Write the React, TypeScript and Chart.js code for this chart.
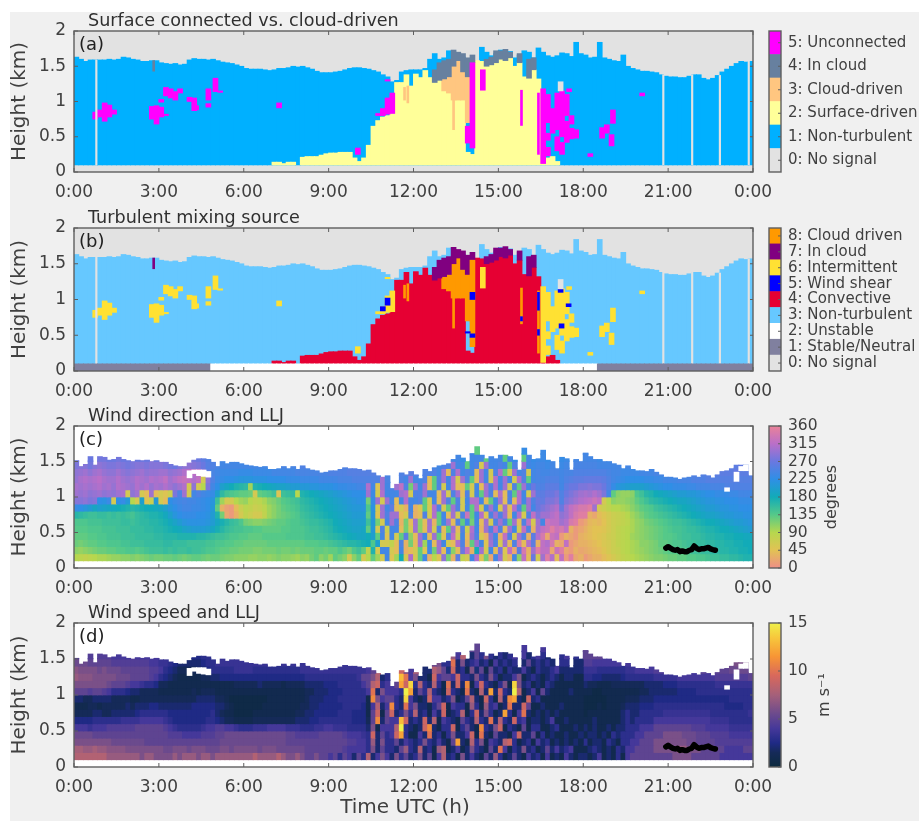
import React, { useEffect, useRef } from "react";
import { Chart, registerables } from "chart.js";

Chart.register(...registerables);

const COLS = 144;
const timeTicks = [0, 3, 6, 9, 12, 15, 18, 21, 24];
const heightTicks = [0, 0.5, 1, 1.5, 2];

const signalTop = [
  1.63,1.6,1.57,1.59,1.59,1.59,1.59,1.6,1.59,1.6,1.63,1.62,1.6,1.59,1.57,1.57,1.58,1.58,
  1.55,1.54,1.53,1.54,1.52,1.53,1.59,1.61,1.6,1.6,1.59,1.6,1.58,1.56,1.55,1.54,1.52,1.5,
  1.47,1.46,1.46,1.46,1.45,1.44,1.45,1.47,1.47,1.48,1.5,1.49,1.5,1.48,1.46,1.43,1.41,1.41,
  1.41,1.42,1.43,1.45,1.47,1.48,1.48,1.47,1.46,1.44,1.42,1.38,1.35,1.28,1.3,1.42,1.44,1.45,
  1.45,1.45,1.47,1.6,1.68,1.6,1.62,1.72,1.7,1.65,1.63,1.6,1.58,1.57,1.77,1.7,1.65,1.68,
  1.73,1.7,1.71,1.62,1.66,1.72,1.7,1.62,1.76,1.7,1.65,1.63,1.65,1.69,1.68,1.64,1.84,1.68,
  1.66,1.62,1.63,1.84,1.62,1.6,1.58,1.57,1.66,1.5,1.47,1.45,1.43,1.43,1.42,1.41,1.38,1.36,
  1.35,1.35,1.34,1.34,1.36,1.38,1.38,1.33,1.31,1.33,1.37,1.42,1.46,1.5,1.54,1.57,1.56,1.57,
];
const turbulentTop = [
  .1,.1,.1,.1,.1,.1,.1,.1,.1,.1,.1,.1,.1,.1,.1,.1,.1,.1,
  .1,.1,.1,.1,.1,.1,.1,.1,.1,.1,.1,.1,.1,.1,.1,.1,.1,.1,
  .1,.1,.1,.1,.1,.1,.14,.14,.12,.14,.14,.1,.21,.22,.22,.22,.24,.26,
  .27,.27,.28,.28,.28,.2,.15,.2,.38,.65,.73,.78,.8,.83,1.27,1.27,1.38,1.22,
  1.39,1.34,1.44,1.34,1.27,1.3,1.15,1.12,1.02,1.02,1.02,.28,.25,1.58,1.57,1.5,1.52,1.55,
  1.6,1.58,1.62,1.5,1.55,1.35,1.33,1.45,1.32,.12,.2,.22,.15,.1,.1,.1,.1,.1,
  .1,.1,.1,.1,.1,.1,.1,.1,.1,.1,.1,.1,.1,.1,.1,.1,.1,.1,
  .1,.1,.1,.1,.1,.1,.1,.1,.1,.1,.1,.1,.1,.1,.1,.1,.1,.1,
];
const cloudCells = [
  [78,1.15,1.32],[79,1.12,1.35],[80,1.02,1.5],[81,1.02,1.58],[82,1.02,1.42],[83,.7,1.35],
];
const thinCloudCells = [[69.6,1.02,1.2],[80,.6,1.02],[70.3,.98,1.22]];
const inCloudCells = [
  [76,1.27,1.45],[77,1.3,1.55],[78,1.32,1.58],[79,1.35,1.6],[80,1.5,1.73],[81,1.58,1.7],[82,1.42,1.68],
  [83,1.35,1.62],[84,1.55,1.66],[87,1.5,1.6],[88,1.52,1.63],[89,1.55,1.72],[90,1.6,1.72],[91,1.58,1.74],
  [92,1.62,1.7],[94,1.55,1.68],[96,1.33,1.6],[97,1.45,1.62],
];
const thinInCloud = [[16.4,1.43,1.58]];
const patchCells = [
  [4,.75,.85],[5,.78,.88],[6,.72,.98],[7,.78,.95],[8,.82,.88],[16,.75,.93],[17,.68,.94],[18,.78,.92],[18,.99,1.03],
  [19,1.08,1.2],[20,1.05,1.18],[21,1.02,1.14],[22,1.12,1.18],[19,.8,.82],[24,1.0,1.06],[25,.87,1.05],[25.4,.88,.94],
  [28,1.02,1.18],[28,.92,.97],[29.5,1.14,1.33],[30.5,1.13,1.15],[43,.91,.98],[59.7,.25,.34],
  [64,.8,.83],[65,.8,.9],[66,.82,1.05],[67,.83,1.12],[66,1.29,1.31],[86.2,1.16,1.45],
  [99,.12,1.18],[100,.23,.35],[100,.45,.55],[100,.7,1.1],[101,.55,.9],[102,.3,.5],[102,.6,1.12],[103,.25,.42],[103,.5,1.15],
  [104,.42,.72],[104,.8,1.1],[105,.47,.62],[105,.68,.8],[106,.48,.6],[104.5,1.14,1.18],
  [120,1.08,1.12],[113.8,.69,.88],[111.5,.48,.63],[112.5,.55,.67],[113.5,.37,.53],[109,.22,.26],
];
const columnCells = [[84,.34,1.55]];
const lowerVeeCells = [[83,.41,.65]];
const thinColumnCells = [[94.4,.66,1.16],[98,.25,1.12]];
const shearCells = [
  [66,.92,1.02],[65,.84,.9],[84,1.0,1.1],[84,.47,.52],[83,.53,.55],[102.7,1.1,1.14],[102.9,.6,.66],[104.4,.9,.94],
];
const thinShearCells = [[94.4,.7,.76],[98,.85,1.1],[98,.5,.58]];
const noSignalCells = [[102.7,1.15,1.28]];
const dropoutHours = [0.79, 20.83, 21.85, 22.83, 23.85];
const stableUntil = 4.83;
const stableFrom = 18.5;

const windTop = [
  1.51,1.43,1.46,1.57,1.45,1.57,1.56,1.52,1.53,1.56,1.53,1.51,1.5,1.52,1.51,1.52,1.5,1.51,
  1.49,1.49,1.46,1.44,1.43,1.43,1.48,1.52,1.54,1.54,1.53,1.49,1.43,1.5,1.47,1.49,1.49,1.47,
  1.45,1.44,1.43,1.42,1.43,1.39,1.39,1.4,1.43,1.4,1.43,1.39,1.44,1.4,1.38,1.37,1.34,1.35,
  1.37,1.37,1.39,1.41,1.4,1.4,1.39,1.37,1.38,1.34,1.3,1.28,1.3,1.12,1.18,1.34,1.31,1.36,
  1.31,1.26,1.39,1.36,1.41,1.44,1.45,1.47,1.53,1.59,1.55,1.5,1.61,1.71,1.59,1.54,1.57,1.54,
  1.59,1.59,1.57,1.52,1.38,1.69,1.59,1.53,1.54,1.66,1.52,1.5,1.4,1.56,1.54,1.38,1.53,1.5,
  1.62,1.57,1.53,1.53,1.5,1.5,1.47,1.45,1.4,1.44,1.39,1.37,1.37,1.36,1.39,1.35,1.31,1.28,
  1.28,1.27,1.25,1.27,1.28,1.3,1.28,1.31,1.3,1.27,1.31,1.36,1.37,1.4,1.45,1.45,1.45,1.3,
];
const windHoleCells = [
  [24,1.27,1.37],[25,1.33,1.38],[26,1.3,1.38],[27,1.29,1.38],[28,1.28,1.36],[140,1.22,1.35],[141,1.37,1.43],[142,1.37,1.45],[138,1.08,1.13],
];
const lljHours = [20.92,21,21.08,21.17,21.25,21.33,21.42,21.5,21.58,21.67,21.75,21.83,21.92,22,22.08,22.17,22.25,22.33,22.42,22.5,22.58,22.67];
const lljHeights = [.28,.3,.28,.26,.25,.26,.23,.24,.23,.23,.25,.26,.31,.28,.26,.27,.27,.28,.29,.27,.26,.25];

// Rows: columns 0-65, then 108-143. Columns 66-107 are held per column below.
const dirRow00 = [90,85,80,85,90,95,95,100,105,105,110,110,115,110,115,120,125,120,
120,125,125,130,125,120,125,130,130,125,120,125,125,120,115,115,110,110,
110,105,105,110,110,105,110,115,110,110,105,100,110,105,120,130,110,120,
100,130,120,110,60,110,130,60,90,130,100,60,
10,20,30,30,40,50,60,70,80,85,90,95,100,105,110,115,115,120,
125,125,130,130,135,135,140,140,145,150,150,155,155,160,160,165,170,170];
const dirRow01 = [110,105,110,115,120,125,125,130,130,135,135,140,140,135,140,145,150,150,
150,155,150,155,150,150,155,150,150,145,140,140,135,130,130,125,125,120,
120,120,115,115,120,120,120,125,120,120,125,120,125,125,125,130,130,125,
130,130,140,130,120,140,150,130,80,170,60,240,
25,30,35,40,50,60,70,75,85,90,95,100,105,110,115,120,125,130,
135,135,140,140,145,150,150,155,155,160,160,165,165,170,170,175,175,180];
const dirRow02 = [125,120,125,130,130,135,135,140,140,140,145,145,150,150,150,155,155,155,
155,160,160,155,155,155,150,150,150,150,145,145,140,140,135,135,130,130,
125,125,125,125,125,130,130,130,130,130,130,130,130,135,135,135,140,140,
145,150,155,160,165,165,170,175,180,140,200,60,
30,35,40,45,55,60,70,80,85,90,95,100,110,110,115,120,130,130,
135,140,140,145,150,150,155,155,160,160,165,165,170,170,175,175,180,180];
const dirRow03 = [130,130,130,135,135,140,140,145,145,145,150,150,150,155,155,155,155,160,
160,165,165,165,170,170,170,170,165,165,160,155,150,150,145,140,140,135,
135,130,130,130,135,135,135,135,135,140,140,140,140,145,145,150,150,155,
160,165,170,175,180,185,190,190,180,200,130,240,
35,40,45,50,55,65,70,80,85,90,100,105,110,115,120,125,130,135,
135,140,145,150,150,155,155,160,165,165,170,170,175,175,180,180,185,185];
const dirRow04 = [135,135,135,140,140,140,145,145,145,150,150,150,155,155,155,160,160,165,
165,170,175,180,185,195,200,205,205,205,200,190,175,165,155,150,145,145,
140,140,135,135,130,130,130,130,135,135,140,140,140,145,150,150,155,160,
165,175,180,185,190,195,195,190,130,210,60,250,
30,40,45,45,50,60,70,80,85,90,95,105,110,115,120,125,130,135,
140,145,145,150,155,155,160,165,170,170,175,180,180,185,190,195,200,205];
const dirRow05 = [140,140,140,145,145,145,150,150,150,150,155,155,150,155,160,160,165,165,
170,175,185,195,205,215,220,220,220,220,215,205,190,175,165,155,150,140,
120,115,110,110,115,120,125,130,130,135,140,140,145,150,155,155,160,165,
170,180,185,190,195,200,200,200,150,210,120,60,
20,35,40,35,45,60,70,75,80,85,95,105,110,120,125,130,135,140,
145,150,150,155,160,165,170,175,180,180,185,190,195,200,205,205,210,215];
const dirRow06 = [165,160,155,150,150,155,155,150,155,150,155,150,145,155,160,165,170,170,
175,185,200,215,225,230,230,230,225,225,220,205,170,120,20,10,30,60,
80,70,60,60,80,100,110,120,125,130,135,140,150,155,160,165,170,175,
180,185,190,195,200,205,205,205,130,215,50,300,
350,30,20,40,50,60,70,75,80,90,100,110,120,130,135,140,145,150,
155,160,165,170,175,180,185,190,195,195,200,205,210,210,215,215,220,220];
const dirRow07 = [230,225,215,205,190,200,195,190,185,180,175,170,165,170,175,180,180,185,
190,200,215,225,235,240,240,235,235,230,225,210,130,30,15,10,40,70,
85,80,70,75,85,100,110,120,130,135,140,145,155,160,165,170,175,180,
185,190,195,200,205,210,210,215,140,220,60,300,
340,350,300,60,70,80,90,90,95,100,110,120,130,135,140,150,155,160,
165,170,175,180,185,190,195,200,205,205,210,215,215,220,220,225,225,225];
const dirRow08 = [285,285,290,280,285,225,220,235,60,225,230,210,90,60,200,50,70,210,
60,40,225,235,240,245,240,240,235,230,225,215,150,100,60,60,90,100,
105,90,80,85,95,110,115,125,135,140,145,150,160,165,170,175,180,185,
190,195,200,205,210,215,220,220,120,230,300,60,
315,320,330,320,60,90,110,105,105,110,115,130,140,150,160,165,170,175,
180,185,190,190,195,200,205,210,215,215,220,220,225,225,225,230,230,230];
const dirRow09 = [300,295,300,290,295,300,290,295,290,300,305,60,290,300,60,40,300,40,
60,50,70,280,250,300,60,240,250,240,235,230,200,160,145,140,135,130,
130,125,60,130,135,140,150,50,150,155,160,90,170,175,180,185,190,195,
200,205,210,215,220,225,225,225,300,235,60,310,
305,300,310,300,280,240,130,110,105,105,110,140,150,165,170,180,185,190,
195,200,205,205,210,210,215,220,225,225,230,230,230,235,235,240,240,240];
const dirRow10 = [305,300,305,300,305,310,300,305,295,310,305,300,295,310,300,310,295,305,
300,310,300,290,300,310,60,290,60,90,280,240,225,200,190,180,170,165,
160,100,170,175,180,185,190,195,195,200,205,205,210,210,215,215,220,220,
220,225,230,230,235,235,240,240,310,240,50,300,
280,285,280,280,270,250,230,215,210,205,200,200,200,205,210,215,220,225,
225,230,230,230,235,235,240,240,240,245,245,245,250,250,250,250,250,250];
const dirRow11 = [295,305,310,305,310,315,305,300,300,310,300,295,300,310,305,300,310,305,
310,320,300,310,320,325,320,310,320,60,290,250,235,230,225,225,220,215,
215,215,220,220,220,225,225,225,225,230,230,230,235,235,235,235,240,240,
240,240,245,245,245,250,250,250,250,250,250,300,
265,265,265,265,260,250,240,235,230,225,225,225,225,230,230,235,235,240,
240,240,245,245,245,250,250,250,255,255,255,255,255,255,255,255,255,255];
const dirRow12 = [290,295,300,290,300,305,295,290,290,300,290,285,290,295,300,290,295,295,
300,300,290,295,300,310,315,315,320,290,260,245,240,235,235,235,235,230,
230,230,235,235,235,235,240,240,240,240,240,245,245,245,245,245,245,245,
250,250,250,250,255,255,255,255,255,255,255,250,
250,250,250,250,250,245,240,240,235,235,235,235,240,240,240,245,245,245,
250,250,250,250,255,255,255,255,255,260,260,260,260,260,265,260,260,265];
const dirRow13 = [280,285,285,275,285,290,285,280,280,285,280,275,280,285,285,280,285,285,
285,280,275,270,280,290,290,285,280,270,255,250,245,240,240,240,240,240,
240,240,240,240,240,240,245,245,245,245,245,250,250,250,250,250,250,250,
250,250,250,250,255,255,255,255,255,255,255,255,
245,245,245,240,240,240,240,240,240,240,240,240,245,245,245,245,250,250,
250,250,250,255,255,255,255,255,260,260,260,260,260,260,260,265,255,250];
const dirRow14 = [270,270,270,270,270,275,275,270,270,275,270,270,270,270,270,270,270,270,
270,265,265,265,265,280,280,275,270,260,250,250,245,245,245,245,245,245,
245,245,245,245,245,245,245,245,245,245,245,245,245,245,245,245,245,245,
250,250,250,250,250,250,250,250,250,250,250,250,
240,240,240,235,235,235,235,235,240,240,240,240,240,240,240,240,240,240,
250,250,250,250,250,250,250,250,250,250,250,250,250,250,250,250,250,250];
const dirRow15 = [240,240,235,235,235];

const dirCol066 = [240,240,60,50,70,240,250,240,300,240,240,245,250,250,250,240];
const dirCol067 = [50,60,80,240,240,300,300,260,240,240,250,250,250,250,250,240];
const dirCol068 = [100,40,40,60,240,250,300,40,40,240,300,260,250,250,250,240];
const dirCol069 = [180,240,250,130,40,30,40,60,240,300,320,250,250,245,250,240];
const dirCol070 = [60,30,30,260,120,120,60,30,310,310,250,240,260,250,250,240];
const dirCol071 = [310,40,120,110,60,40,250,240,240,60,120,300,260,250,250,240];
const dirCol072 = [60,60,40,40,300,300,30,30,240,250,300,240,260,250,250,240];
const dirCol073 = [130,130,300,300,110,110,40,50,250,250,240,240,250,250,245,240];
const dirCol074 = [240,50,100,240,40,40,250,130,130,300,300,250,250,250,245,240];
const dirCol075 = [30,240,240,40,300,300,60,60,60,240,40,40,250,250,240,240];
const dirCol076 = [90,120,40,300,60,30,310,310,240,240,130,130,250,240,240,240];
const dirCol077 = [50,300,300,130,250,130,130,250,40,40,250,250,240,240,240,240];
const dirCol078 = [290,40,240,50,40,240,240,60,300,300,60,300,300,250,240,240];
const dirCol079 = [120,240,60,250,130,300,40,130,250,60,240,240,40,250,240,240];
const dirCol080 = [30,110,40,320,300,40,300,300,130,250,310,310,250,300,240,240];
const dirCol081 = [260,40,310,60,40,250,60,250,250,300,40,60,310,240,240,230];
const dirCol082 = [80,270,250,240,250,130,250,60,60,40,40,300,240,240,230,240];
const dirCol083 = [60,320,30,40,70,240,330,240,240,250,130,250,250,130,240,240];
const dirCol084 = [240,30,130,300,310,120,130,130,310,60,60,130,240,240,240,240];
const dirCol085 = [310,180,300,250,240,240,240,310,310,240,240,40,40,250,240,130];
const dirCol086 = [50,300,240,60,30,40,310,60,240,130,40,300,300,60,240,240];
const dirCol087 = [120,60,50,30,300,300,50,240,40,300,300,240,240,300,130,240];
const dirCol088 = [20,240,300,290,250,60,250,300,130,250,250,60,60,240,240,70];
const dirCol089 = [240,40,250,240,320,250,300,240,240,40,310,310,250,240,240,240];
const dirCol090 = [300,280,60,30,250,300,250,60,300,310,240,240,310,250,240,130];
const dirCol091 = [60,50,300,320,40,250,300,300,40,40,300,300,130,240,130,240];
const dirCol092 = [30,320,40,250,300,130,40,40,250,250,60,240,60,130,240,240];
const dirCol093 = [240,20,250,60,240,300,240,310,40,130,250,60,300,250,230,240];
const dirCol094 = [110,260,340,300,60,40,310,250,310,310,130,310,240,240,240,235];
const dirCol095 = [320,340,40,250,320,250,60,130,240,240,300,250,250,300,130,230];
const dirCol096 = [40,30,310,30,250,320,250,300,300,60,240,130,60,240,240,235];
const dirCol097 = [270,300,260,260,30,60,320,240,250,300,270,240,240,235,230,240];
const dirCol098 = [60,350,30,310,300,300,280,270,270,260,250,245,245,240,235,230];
const dirCol099 = [300,320,320,340,320,240,300,280,265,260,250,245,240,240,235,235];
const dirCol100 = [350,320,310,20,330,330,300,290,280,270,260,250,240,235,230,230];
const dirCol101 = [310,20,340,330,350,320,310,300,280,270,260,250,245,240,235,230];
const dirCol102 = [40,330,30,320,330,320,320,310,290,280,260,250,245,240,235,235];
const dirCol103 = [320,350,20,10,340,300,290,270,250,250,240,240,240,235,230,230];
const dirCol104 = [10,20,320,30,320,310,300,300,280,270,260,250,245,240,235,230];
const dirCol105 = [350,10,10,20,30,340,320,320,290,280,270,255,245,240,235,230];
const dirCol106 = [20,30,20,10,10,350,340,330,300,290,270,260,250,245,240,235];
const dirCol107 = [30,20,30,30,20,10,350,340,310,300,280,260,250,245,240,235];

const spdRow00 = [8,8,8,8,8,8,8,7,7,7,7,7,7,7,6,7,7,6,
6,6,6,7,6,7,7,7,6,7,7,6,7,7,7,7,7,7,
7,7,8,7,7,7,7,8,7,6,6,7,6,5,5,6,5,5,
4,5,3,5,4,2,5,3,8,2,4,6,
2,1,2,4,1,2,1,3,1,4,5,5,5,5,5,5,5,5,
5,6,6,6,6,5,5,5,5,5,5,4,4,4,4,4,4,4];
const spdRow01 = [7.5,7.5,7,7,7.5,7,7,6.5,6.5,6.5,6.5,6,6,6,6,6,6,6,
6,5.5,5.5,6,6,6,5.5,6,6,6,5.5,5.5,5.5,6,6,5.5,6,6,
6,6,6,5.5,6,6,6,5.5,5.5,5.5,5.5,5.5,5.5,5,5,5,5,5,
5,5,5,4.5,4,4,4,4,3,6,2,5,
1,2,3,2,1,2,1,3,2,4,4,5,5,5,5,6,6,6,
6,6,7,7,6,6,6,5,5,5,5,5,4,4,4,4,5,5];
const spdRow02 = [6,6,6,6,6,6,6,6,5.5,5.5,5.5,5.5,5.5,5.5,5.5,5,5,5,
5,5,5,5,5,5,5,5,5,5,5,5,5,5.5,5.5,5.5,5.5,5.5,
5.5,5.5,5.5,5.5,5.5,5.5,5.5,5.5,5.5,5,5,5,5,5,5,5,5,5,
5,5,5,5,4.5,4.5,4,4,3,7,2,6,
3,1,2,2,1,3,2,1,3,3,4,4,5,5,5,6,6,6,
6,6,6,6,5.5,5.5,5,5,5,5,4.5,4.5,4.5,4.5,4.5,4.5,4.5,4.5];
const spdRow03 = [5.5,5.5,5.5,5.5,5,5,5,5,5,5,5,5,5,5,5,5,5,5,
5,5,4.5,4.5,4.5,4,4,4,4,4.5,4.5,4.5,5,5,5.5,5.5,5.5,5.5,
5.5,5.5,5.5,5.5,5.5,5.5,5.5,5.5,5.5,5,5,4.5,4.5,4.5,4.5,4.5,5,5,
5,5,5,4.5,4,4,4,3.5,3,9,2,5,
1,2,2,1,2,1,3,2,3,3,3,4,4,5,5,5,5,6,
6,6,6,5.5,5.5,5.5,5,5,5,4.5,4.5,4.5,4.5,4,4,4,4,4];
const spdRow04 = [4,4,4,3.5,4,4,4,4.5,4.5,4.5,4.5,4.5,4.5,5,5,5,5,5,
5,4.5,4,3.5,3,3,3,3,3,3.5,4,4,4.5,4.5,4,4,3.5,3,
3,3,3.5,3.5,3.5,4,4,4,4,3.5,3.5,3.5,3,3,3,3.5,3.5,4,
4,3.5,3.5,3.5,3,3,3,3,2,6,1,4,
2,1,2,1,1,2,1,2,2,3,3,3,4,4,4,5,5,5,
5,5,5,5,5,4.5,4.5,4.5,4,4,4,4,4,3.5,3.5,3.5,3.5,3.5];
const spdRow05 = [2.5,2.5,2.5,2.5,3,3,3,3,3,3,3.5,3.5,3.5,3.5,4,4,4,4,
4,3.5,3,2.5,2.5,2.5,2.5,2.5,2.5,2.5,3,3,2.5,2,1.5,1.5,1,1,
1,1,1.5,1.5,1.5,1.5,1.5,1.5,1.5,1.5,1.5,2,2,2,2.5,2.5,3,3,
3,3,3,3,3,2.5,2.5,2.5,1.5,5,11,2,
1,1,2,1,1,1,1,1,2,3,2,3,3,3,3,4,4,4,
4,4,4,4,4,4,4,4,4,3.5,3.5,3.5,3.5,3,3,3,3,3];
const spdRow06 = [1.5,1.5,1.5,1.5,2,2,1.5,1.5,2,2,2,2,2,2.5,3,3,3,3,
3,3,2.5,2.5,2.5,2.5,2.5,2.5,2.5,2.5,2.5,3,2,1.5,1,1,0.5,0.5,
0.5,0.5,1,1,1,1,1,1,1,1,1,1.5,1.5,2,2,2.5,2.5,2.5,
2.5,2.5,3,3,3,2.5,2.5,2.5,1,5,9,1,
0.5,1,1,1,1,1,1,1,2,3,2,2,3,3,3,3,3,3.5,
3.5,3.5,3.5,3.5,3.5,3.5,3.5,3.5,3.5,3,3,3,3,3,3,3,3,3.5];
const spdRow07 = [1,1,1,1.5,1.5,1,1.5,1.5,1.5,1.5,1.5,2,1.5,2,2,2,2.5,2.5,
2,2,2,2,2,2,2,2.5,2.5,2.5,2.5,2.5,2,2,1.5,1,0.5,0.5,
0.5,0.5,0.5,0.5,1,1,1,1,1,1,1,1,1.5,1.5,2,2,2.5,2.5,
2.5,2.5,2.5,3,3,3,3,2.5,1,4,8,2,
0.5,0.5,0.5,1,0.5,1,1,1,1.5,2,2,2,2.5,2.5,2.5,3,3,3,
3,3,3,3,3,3,3,3,3,3,3,3,2.5,2.5,2.5,2.5,3,3];
const spdRow08 = [2,2,1.5,1.5,2,2,2,2,1.5,1.5,1.5,1.5,1,1,1.5,1.5,1.5,1.5,
1.5,1.5,1.5,1.5,1.5,1.5,1.5,1.5,2,2,2,2,1.5,1.5,1,0.5,0.5,0.5,
0.5,0.5,0.5,0.5,0.5,1,1,1,1,1,1,1,1,1.5,2,2,2,2.5,
2.5,2.5,3,3,3,3,3,3,1,11,6,4,
0.5,0.5,0.5,0.5,0.5,1,1,1,1,1.5,1.5,1.5,2,2,2,2.5,2.5,2.5,
2.5,2.5,2.5,2.5,2.5,2.5,2.5,2.5,2.5,2.5,2.5,2.5,2.5,3,3,3,3,3];
const spdRow09 = [5,5,5,4.5,5,5,4.5,4,3,3,3,2.5,2,2,1.5,1.5,1.5,1.5,
1,1,1,1,1,1,1,1.5,1,1.5,1.5,1.5,1,1,1,1,1,1,
1,1,1,1,1,1,1,1,1,1,1,1,1,1.5,1.5,2,2,2,
2.5,2.5,2.5,3,3,3,3,3,4,10,2,6,
1,1,0.5,0.5,1,1,1,1,1,1,1,1,1.5,1.5,2,2,2,2,
2,2,2.5,2.5,2.5,2.5,3,3,3,3,3,3,3,3,3,3,3,3];
const spdRow10 = [6,6,6,6,6,6,6,5.5,5,5,5,4.5,4,4,3.5,3,3,2.5,
1.5,1.5,1,1,1,1,1,1,1,1,1,1,1,1,1,1,1.5,1.5,
1.5,1.5,1.5,2,1.5,1.5,1.5,1.5,1,1.5,1.5,1.5,1.5,2,2,2,2,2.5,
2.5,2.5,3,3,3,3,3,4,5,8,9,3,
2,1.5,1.5,1,1,1,1.5,1.5,1.5,1.5,1.5,1.5,1.5,2,2,2,2,2.5,
2.5,2.5,3,3,3,3,3,3,3,3,3.5,3.5,3.5,3.5,3.5,3.5,3.5,3.5];
const spdRow11 = [7,6.5,6.5,6.5,6,6,6,6,6,5.5,5.5,5.5,5,5,5,5,4.5,4,
3,2.5,2,1.5,1,1,1,1,1,1.5,1.5,2,2,2.5,2.5,2.5,2.5,2.5,
2.5,2.5,2.5,2.5,2.5,2.5,2.5,2.5,2.5,2.5,2.5,2.5,2.5,3,3,3,3,3,
3,3,3,3,3,3,3.5,5,5,6,8,2,
3,3,2.5,2.5,2,2,2,2,2.5,3,3,3,3,3,3,3.5,3.5,3.5,
3.5,3.5,4,4,4,4,4,4,4,4,4.5,4.5,4.5,4.5,4.5,4.5,4.5,5];
const spdRow12 = [6.5,6,6,6,6,5.5,6,5.5,5.5,5.5,5,5,5,5,5,5,4.5,4.5,
4,3,2.5,2,1.5,1.5,1.5,1.5,2,2,2.5,3,3,3,3,3,3.5,3.5,
3.5,3.5,3,3,3,3,3,3,3,3,3,3,3.5,3.5,3.5,3.5,3.5,3.5,
3.5,3.5,3.5,3.5,3.5,3.5,3.5,3.5,4,5,6,7,
3.5,3.5,3.5,3,3,3,3,3,3,3.5,3.5,4,4,4,4,4.5,4.5,4.5,
4.5,5,5,5,5,5,5,5,5,5,5,5,5,5.5,5.5,5.5,5.5,5.5];
const spdRow13 = [5.5,5.5,5.5,5,5,5,5,5,4.5,4.5,4.5,4.5,4.5,4.5,4.5,4.5,4,4,
3.5,3.5,3,2.5,2,2,2,2,2,2.5,3,3,3.5,3.5,3.5,3.5,3.5,3.5,
3.5,3.5,3.5,3.5,3.5,3.5,3.5,3.5,3.5,3.5,3.5,3.5,3.5,3.5,3.5,3.5,3.5,3.5,
3.5,3.5,3.5,3.5,3.5,3.5,3.5,3.5,4,5,6,7,
4.5,4.5,4,4,4,4,4,4,4,4,4.5,4.5,4.5,5,5,5,5,5,
5,5.5,5.5,5.5,5.5,5.5,6,6,6,6,6,6,6,6,6,6,6,6];
const spdRow14 = [4.5,4.5,4.5,4.5,4.5,4.5,4.5,4.5,4,4,4,4,4,4,4,4,4,4,
3.5,3.5,3.5,3,3,3,2.5,2.5,2.5,3,3,3.5,3.5,3.5,3.5,3.5,3.5,3.5,
3.5,3.5,3.5,3.5,3.5,3.5,3.5,3.5,3.5,3.5,3.5,3.5,3.5,3.5,3.5,3.5,3.5,3.5,
3.5,3.5,3.5,3.5,3.5,3.5,3.5,3.5,3.5,3.5,3.5,3.5,
5,5,5,5,5,5,5,5,5,5,5,5,5.5,5.5,5.5,5.5,5.5,5.5,
6,6,6,6,6,6,6,6,6,6,6,6,6,6,6,6,6,6];
const spdRow15 = [5,5,5,5,5];

const spdCol066 = [4,3,3,3,4,5,5,4,5,4,4,3,4,4,3.5,3];
const spdCol067 = [2,3,3,4,4,4,9,11,5,4,4,5,5,5,4,3];
const spdCol068 = [6,2,5,9,8,4,2,3,3,4,5,9,6,6,4,3];
const spdCol069 = [3,5,2,12,15,13,3,2,2,3,12,13,9,7,4,3];
const spdCol070 = [5,7,4,3,3,9,6,10,14,15,9,10,5,6,3,3];
const spdCol071 = [2,3,3,1,2,2,3,4,4,12,14,4,4,3,3,3];
const spdCol072 = [3,2,2,1,1,3,8,6,2,2,3,6,8,7,4,4];
const spdCol073 = [6,8,3,4,2,2,2,2,1,5,8,2,3,5,3,3];
const spdCol074 = [2,2,6,2,9,9,3,2,2,3,3,2,2,3,5,5];
const spdCol075 = [5,3,3,10,11,2,1,1,9,8,2,1,2,4,5,5];
const spdCol076 = [1,1,2,2,2,8,4,3,4,3,8,9,8,5,5,4];
const spdCol077 = [4,7,4,3,1,1,2,5,4,2,3,4,7,6,4,3];
const spdCol078 = [8,8,2,1,3,4,9,9,2,1,1,5,5,3,5,4];
const spdCol079 = [2,1,1,3,3,3,1,1,3,9,10,5,2,3,6,6];
const spdCol080 = [3,2,5,6,9,2,2,4,6,3,2,4,9,10,7,5];
const spdCol081 = [1,4,12,2,1,1,3,3,1,2,9,9,2,2,4,4];
const spdCol082 = [6,1,2,2,3,5,8,3,2,1,2,3,3,6,8,6];
const spdCol083 = [2,2,1,4,5,3,1,1,5,10,11,3,1,2,3,6];
const spdCol084 = [4,6,8,9,2,2,3,7,8,2,1,2,6,3,2,5];
const spdCol085 = [2,3,3,1,1,8,9,3,2,1,4,6,2,4,5,5];
const spdCol086 = [1,2,6,10,11,3,2,1,1,8,9,3,5,2,3,5];
const spdCol087 = [5,1,1,2,3,2,6,7,9,2,3,2,1,3,6,7];
const spdCol088 = [2,5,4,1,2,10,3,3,3,12,2,6,5,1,3,4];
const spdCol089 = [7,2,3,5,6,2,1,4,1,2,1,3,2,4,2,5];
const spdCol090 = [3,10,2,2,9,8,2,1,8,9,3,1,3,2,3,6];
const spdCol091 = [1,4,8,2,1,3,12,2,2,3,6,2,1,3,2,5];
const spdCol092 = [2,1,9,1,3,2,3,10,11,2,1,2,3,2,3,4];
const spdCol093 = [5,3,3,4,2,9,1,2,12,15,14,4,2,3,4,3];
const spdCol094 = [2,2,1,9,1,3,4,2,2,8,6,6,2,3,2,6];
const spdCol095 = [1,6,2,2,5,4,10,9,1,1,2,1,4,2,4,4];
const spdCol096 = [4,2,3,2,1,1,2,5,9,2,3,2,2,5,2,4];
const spdCol097 = [2,3,1,5,3,2,1,1,2,4,1,3,1,2,3,3];
const spdCol098 = [3,1,4,1,3,2,2,1,3,1,2,2,3,3,4,4];
const spdCol099 = [1,2,2,3,1,1,1,2,1,5,1,1,2,2,3,4];
const spdCol100 = [4,5,3,1,1,2,2,1,1,2,3,2,2,3,2,3];
const spdCol101 = [1,2,1,2,2,4,1,1,1,1,2,3,3,2,3,3];
const spdCol102 = [2,4,2,1,3,1,2,1,1,1,1,2,4,4,3,4];
const spdCol103 = [1,2,1,1,1,1,1,2,1,1,1,1,2,3,3,4];
const spdCol104 = [4,3,2,2,1,2,1,1,1,1,1,2,2,3,4,4];
const spdCol105 = [2,4,1,1,1,1,1,1,1,2,1,2,2,3,3,3];
const spdCol106 = [1,1,2,1,2,1,1,1,1,1,1,1,2,2,3,3];
const spdCol107 = [2,1,1,2,1,1,1,1,1,1,1,1,2,2,3,3];

const dirRows = [dirRow00,dirRow01,dirRow02,dirRow03,dirRow04,dirRow05,dirRow06,dirRow07,dirRow08,dirRow09,dirRow10,dirRow11,dirRow12,dirRow13,dirRow14,dirRow15];
const spdRows = [spdRow00,spdRow01,spdRow02,spdRow03,spdRow04,spdRow05,spdRow06,spdRow07,spdRow08,spdRow09,spdRow10,spdRow11,spdRow12,spdRow13,spdRow14,spdRow15];
const dirCols = [dirCol066,dirCol067,dirCol068,dirCol069,dirCol070,dirCol071,dirCol072,dirCol073,dirCol074,dirCol075,dirCol076,dirCol077,dirCol078,dirCol079,dirCol080,dirCol081,dirCol082,dirCol083,dirCol084,dirCol085,dirCol086,dirCol087,dirCol088,dirCol089,dirCol090,dirCol091,dirCol092,dirCol093,dirCol094,dirCol095,dirCol096,dirCol097,dirCol098,dirCol099,dirCol100,dirCol101,dirCol102,dirCol103,dirCol104,dirCol105,dirCol106,dirCol107];
const spdCols = [spdCol066,spdCol067,spdCol068,spdCol069,spdCol070,spdCol071,spdCol072,spdCol073,spdCol074,spdCol075,spdCol076,spdCol077,spdCol078,spdCol079,spdCol080,spdCol081,spdCol082,spdCol083,spdCol084,spdCol085,spdCol086,spdCol087,spdCol088,spdCol089,spdCol090,spdCol091,spdCol092,spdCol093,spdCol094,spdCol095,spdCol096,spdCol097,spdCol098,spdCol099,spdCol100,spdCol101,spdCol102,spdCol103,spdCol104,spdCol105,spdCol106,spdCol107];
const colsStart = 66;
const lastRowFirstCol = 108;

const classesA = ["0: No signal","1: Non-turbulent","2: Surface-driven","3: Cloud-driven","4: In cloud","5: Unconnected"];
const coloursA = ["#e2e2e2","#00b0ff","#ffff99","#ffc680","#67809f","#ff00ff"];
const classesB = ["0: No signal","1: Stable/Neutral","2: Unstable","3: Non-turbulent","4: Convective","5: Wind shear","6: Intermittent","7: In cloud","8: Cloud driven"];
const coloursB = ["#e2e2e2","#80809f","#ffffff","#66c8ff","#e60033","#0000ff","#ffe133","#800080","#ff9900"];
const dirTickValues = [0,45,90,135,180,225,270,315,360];
const spdTickValues = [0,5,10,15];
const dirStops: [number,string][] = [[0,"#ee8f87"],[45,"#e2c254"],[90,"#b6d74e"],[135,"#55c989"],[180,"#12abb8"],[225,"#2f8fe6"],[270,"#6a78e0"],[315,"#ba6fc8"],[360,"#ea8298"]];
const spdStops: [number,string][] = [[0,"#0c2a3e"],[1.5,"#152a58"],[2.5,"#1f2a85"],[4,"#45389a"],[5.5,"#6b4a8d"],[7.5,"#a5607a"],[9.5,"#d8685c"],[11.5,"#f79535"],[13.5,"#f7c83c"],[15,"#eef04a"]];

const FONT = '"DejaVu Sans", sans-serif';
const INK = "#404040";
const FRAME = "#5e5e5e";
const LEFT = 74, RIGHT = 753, CB_LEFT = 769, CB_RIGHT = 781;
const ABOVE = 30;
const CANVAS_W = 778;

function hexRgb(h: string) { return [1,3,5].map((i) => parseInt(h.slice(i,i+2),16)); }
function ramp(stops: [number,string][], v: number) {
  for (let i = 1; i < stops.length; i++) {
    if (v <= stops[i][0]) {
      const [a, ca] = stops[i-1], [b, cb] = stops[i];
      const t = Math.max(0,(v-a)/(b-a));
      const x = hexRgb(ca), y = hexRgb(cb);
      return `rgb(${x.map((c,k)=>Math.round(c+(y[k]-c)*t)).join(",")})`;
    }
  }
  return stops[stops.length-1][1];
}
const centre = (col: number) => (col+0.5)/6;
function bars(points: any[], colour: any, thick = 5) {
  return { type:"bar", data:points, backgroundColor:colour, borderWidth:0, barThickness:thick, stack:"s" };
}
function topBars(tops: number[], colour: string) {
  return bars(tops.map((t,i)=>({t,i})).filter((p)=>p.t>0.1).map((p)=>({x:centre(p.i),y:[0.1,p.t]})), colour);
}
function cellBars(cells: number[][], colour: string, thick = 5) {
  return bars(cells.map(([c,lo,hi])=>({x:centre(c),y:[lo,hi]})), colour, thick);
}
function dropouts(colour: string) {
  return bars(dropoutHours.map((h)=>({x:h,y:[0.1,signalTop[Math.floor(h*6)]]})), colour, 1.5);
}
function gridBars(rows: number[][], cols: number[][], tops: number[], stops: [number,string][]) {
  return rows.map((row,r)=>{
    const lo = 0.1+0.1*r;
    const pts: any[] = [], colours: string[] = [];
    const put = (c: number, v: number) => {
      if (lo>=tops[c]) return;
      pts.push({x:centre(c),y:[lo,Math.min(tops[c],lo+0.11)]});
      colours.push(ramp(stops,v));
    };
    const isLast = r===rows.length-1;
    row.forEach((v,j)=>{
      if (isLast) put(lastRowFirstCol+j,v);
      else put(j<colsStart ? j : j+cols.length,v);
    });
    cols.forEach((col,k)=>put(colsStart+k,col[r]));
    return bars(pts,colours);
  });
}
function llj() {
  return { type:"line", data:lljHours.map((h,i)=>({x:h,y:lljHeights[i]})), borderColor:"#000", borderWidth:5.5, pointRadius:0, borderCapStyle:"round", borderJoinStyle:"round", fill:false, tension:0 };
}

const decor = {
  id:"decor",
  afterDatasetsDraw(chart: any, _a: any, o: any) {
    const { ctx, chartArea:{left,right,top,bottom} } = chart;
    ctx.save();
    ctx.strokeStyle = FRAME; ctx.lineWidth = 1.4;
    ctx.strokeRect(left,top,right-left,bottom-top);
    ctx.lineWidth = 1;
    if (o.ticks!==false) {
      chart.scales.x.ticks.forEach((t: any)=>{
        const x = chart.scales.x.getPixelForValue(t.value);
        ctx.beginPath(); ctx.moveTo(x,top); ctx.lineTo(x,top+4); ctx.moveTo(x,bottom); ctx.lineTo(x,bottom-4); ctx.stroke();
      });
    }
    chart.scales.y.ticks.forEach((t: any)=>{
      const y = chart.scales.y.getPixelForValue(t.value);
      ctx.beginPath();
      if (o.ticks!==false) { ctx.moveTo(left,y); ctx.lineTo(left+4,y); }
      ctx.moveTo(right,y); ctx.lineTo(right-3,y); ctx.stroke();
    });
    ctx.textAlign="left"; ctx.textBaseline="middle";
    if (o.title) {
      ctx.font = `17.6px ${FONT}`; ctx.fillStyle="#303030";
      ctx.fillText(o.title,left+14,top-10);
    }
    if (o.letter) {
      ctx.font = `18px ${FONT}`; ctx.fillStyle="#202020";
      ctx.fillText(o.letter,left+5,top+14);
    }
    if (o.xTitle) {
      ctx.font = `20px ${FONT}`; ctx.fillStyle=INK; ctx.textAlign="center";
      ctx.fillText(o.xTitle,405,bottom+41);
    }
    if (o.side) {
      ctx.translate(o.side.x,(top+bottom)/2); ctx.rotate(-Math.PI/2);
      ctx.font = `16px ${FONT}`; ctx.textAlign="center"; ctx.fillStyle=INK;
      ctx.fillText(o.side.text,0,0);
    }
    ctx.restore();
  },
  beforeDatasetsDraw(chart: any, _a: any, o: any) {
    const { ctx, chartArea:{left,right,top,bottom} } = chart;
    if (o.bg) { ctx.save(); ctx.fillStyle=o.bg; ctx.fillRect(left,top,right-left,bottom-top); ctx.restore(); }
  },
};
const noPad = (s: any) => { s.paddingLeft = s.paddingRight = s.paddingTop = s.paddingBottom = 0; };

function panelConfig(datasets: any[], title: string, letter: string, bg: string, last: boolean) {
  datasets.forEach((d,i)=>{ d.order = -i; });
  return {
    type:"bar",
    data:{ datasets },
    plugins:[decor],
    options:{
      animation:false, responsive:false, devicePixelRatio:1, events:[],
      layout:{ padding:{ top:ABOVE, left:0, right:CANVAS_W-RIGHT, bottom:0 } },
      plugins:{ legend:{display:false}, tooltip:{enabled:false}, title:{display:false}, decor:{ title, letter, bg, xTitle: last ? "Time UTC (h)" : "" } },
      scales:{
        x:{ type:"linear", offset:false, min:0, max:24, grid:{display:false,drawTicks:false}, border:{display:false},
          afterBuildTicks:(s: any)=>{ s.ticks = timeTicks.map((value)=>({value})); },
          ticks:{ color:INK, font:{size:17,family:FONT}, padding:10, maxRotation:0, autoSkip:false, callback:(v: number)=>`${v%24}:00` },
          afterFit:(s: any)=>{ s.height = last ? 54 : 40; noPad(s); },
        },
        y:{ type:"linear", stacked:false, min:0, max:2, grid:{display:false,drawTicks:false}, border:{display:false},
          afterBuildTicks:(s: any)=>{ s.ticks = heightTicks.map((value)=>({value})); },
          ticks:{ color:INK, font:{size:17,family:FONT}, padding:8, autoSkip:false, callback:(v: number)=>String(v) },
          afterFit:(s: any)=>{ s.width = LEFT; noPad(s); },
          title:{ display:true, text:"Height (km)", color:INK, font:{size:20,family:FONT}, padding:{top:8,bottom:0} },
        },
      },
    },
  };
}

function colourbarConfig(datasets: any[], min: number, max: number, tickValues: number[], labels: string[]|null, side: any) {
  const W = 919-CB_LEFT+7;
  return {
    type:"bar",
    data:{ labels:[""], datasets },
    plugins:[decor],
    options:{
      animation:false, responsive:false, devicePixelRatio:1, events:[],
      layout:{ padding:{ top:10, bottom:10, left:7, right:0 } },
      plugins:{ legend:{display:false}, tooltip:{enabled:false}, decor:{ ticks:false, side } },
      scales:{
        x:{ display:false },
        y:{ position:"right", min, max, grid:{display:false,drawTicks:false}, border:{display:false}, stacked:false,
          afterBuildTicks:(s: any)=>{ s.ticks = tickValues.map((value)=>({value})); },
          afterFit:(s: any)=>{ s.width = W-7-(CB_RIGHT-CB_LEFT); noPad(s); },
          ticks:{ color:INK, font:{size:labels?15:15.5,family:FONT}, padding:7, autoSkip:false,
            callback:(v: number, i: number)=> labels ? labels[i] : String(v) },
        },
      },
    },
  };
}
function classBar(classes: string[], colours: string[]) {
  return colourbarConfig(
    classes.map((_,i)=>({ data:[[i,i+1]], backgroundColor:colours[i], borderWidth:0, grouped:false, barPercentage:1, categoryPercentage:1 })),
    0, classes.length, classes.map((_,i)=>i+0.5), classes, null);
}
function rampBar(stops: [number,string][], ticks: number[], side: any) {
  const max = stops[stops.length-1][0];
  return colourbarConfig([{
    data:[[0,max]], borderWidth:0, grouped:false, barPercentage:1, categoryPercentage:1,
    backgroundColor:(c: any)=>{
      const a = c.chart.chartArea;
      if (!a) return stops[0][1];
      const g = c.chart.ctx.createLinearGradient(0,a.bottom,0,a.top);
      stops.forEach(([v,col])=>g.addColorStop(v/max,col));
      return g;
    },
  }],0,max,ticks,null,side);
}

const PANELS = [{top:31,bottom:172},{top:228,bottom:371},{top:426,bottom:568},{top:623,bottom:767}];

function panelA() {
  const [,blue,yellow,orange,slate,magenta] = coloursA;
  return panelConfig([
    topBars(signalTop,blue),
    topBars(turbulentTop,yellow),
    cellBars(cloudCells,orange),
    cellBars(thinCloudCells,orange,2),
    cellBars(inCloudCells,slate),
    cellBars(thinInCloud,slate,2),
    cellBars(patchCells,magenta),
    cellBars(columnCells,magenta),
    cellBars(lowerVeeCells,magenta),
    cellBars(thinColumnCells,magenta,2),
    cellBars(noSignalCells,coloursA[0]),
    dropouts(coloursA[0]),
  ],"Surface connected vs. cloud-driven","(a)",coloursA[0],false);
}
function panelB() {
  const c = coloursB;
  const strip = Array.from({length:COLS},(_,i)=>i);
  return panelConfig([
    topBars(signalTop,c[3]),
    topBars(turbulentTop,c[4]),
    cellBars(cloudCells,c[8]),
    cellBars(thinCloudCells,c[8],2),
    cellBars(inCloudCells,c[7]),
    cellBars(thinInCloud,c[7],2),
    cellBars(columnCells,c[8]),
    cellBars(patchCells,c[6]),
    cellBars(thinColumnCells,c[8],2),
    cellBars(shearCells,c[5]),
    cellBars(thinShearCells,c[5],2),
    cellBars(noSignalCells,c[0]),
    dropouts(c[0]),
    bars(strip.map((i)=>({x:centre(i),y:[0,0.1]})), strip.map((i)=>(centre(i)<stableUntil||centre(i)>stableFrom)?c[1]:c[2])),
  ],"Turbulent mixing source","(b)",c[0],false);
}
function panelGrid(rows: number[][], cols: number[][], stops: [number,string][], title: string, letter: string, last: boolean) {
  return panelConfig([
    ...gridBars(rows,cols,windTop,stops),
    cellBars(windHoleCells,"#ffffff"),
    llj(),
  ],title,letter,"#ffffff",last);
}

function useChart(makeConfig: () => any) {
  const ref = useRef<HTMLCanvasElement>(null);
  useEffect(()=>{
    const chart = new Chart(ref.current as any, makeConfig());
    return ()=>chart.destroy();
  },[]);
  return ref;
}
function ChartCanvas({ make, left, top, width, height }: any) {
  const ref = useChart(make);
  return <canvas ref={ref} width={width} height={height} style={{position:"absolute",left,top,width,height,display:"block"}} />;
}

export default function App() {
  const makers = [
    ()=>panelA(),
    ()=>panelB(),
    ()=>panelGrid(dirRows,dirCols,dirStops,"Wind direction and LLJ","(c)",false),
    ()=>panelGrid(spdRows,spdCols,spdStops,"Wind speed and LLJ","(d)",true),
  ];
  const barMakers = [
    ()=>classBar(classesA,coloursA),
    ()=>classBar(classesB,coloursB),
    ()=>rampBar(dirStops,dirTickValues,{x:832-(CB_LEFT-7),text:"degrees"}),
    ()=>rampBar(spdStops,spdTickValues,{x:825-(CB_LEFT-7),text:"m s\u207B\u00B9"}),
  ];
  return (
    <div style={{position:"absolute",left:0,top:0,width:919,height:821,overflow:"hidden",background:"#fff"}}>
      <div style={{position:"absolute",left:10,top:12,right:0,bottom:0,background:"#f0f0f0"}} />
      {PANELS.map((p,i)=>{
        const last = i===3;
        return <ChartCanvas key={"p"+i} make={makers[i]} left={0} top={p.top-ABOVE} width={CANVAS_W} height={ABOVE+(p.bottom-p.top)+(last?54:40)} />;
      })}
      {PANELS.map((p,i)=>(
        <ChartCanvas key={"c"+i} make={barMakers[i]} left={CB_LEFT-7} top={p.top-10} width={919-CB_LEFT+7} height={p.bottom-p.top+20} />
      ))}
    </div>
  );
}
